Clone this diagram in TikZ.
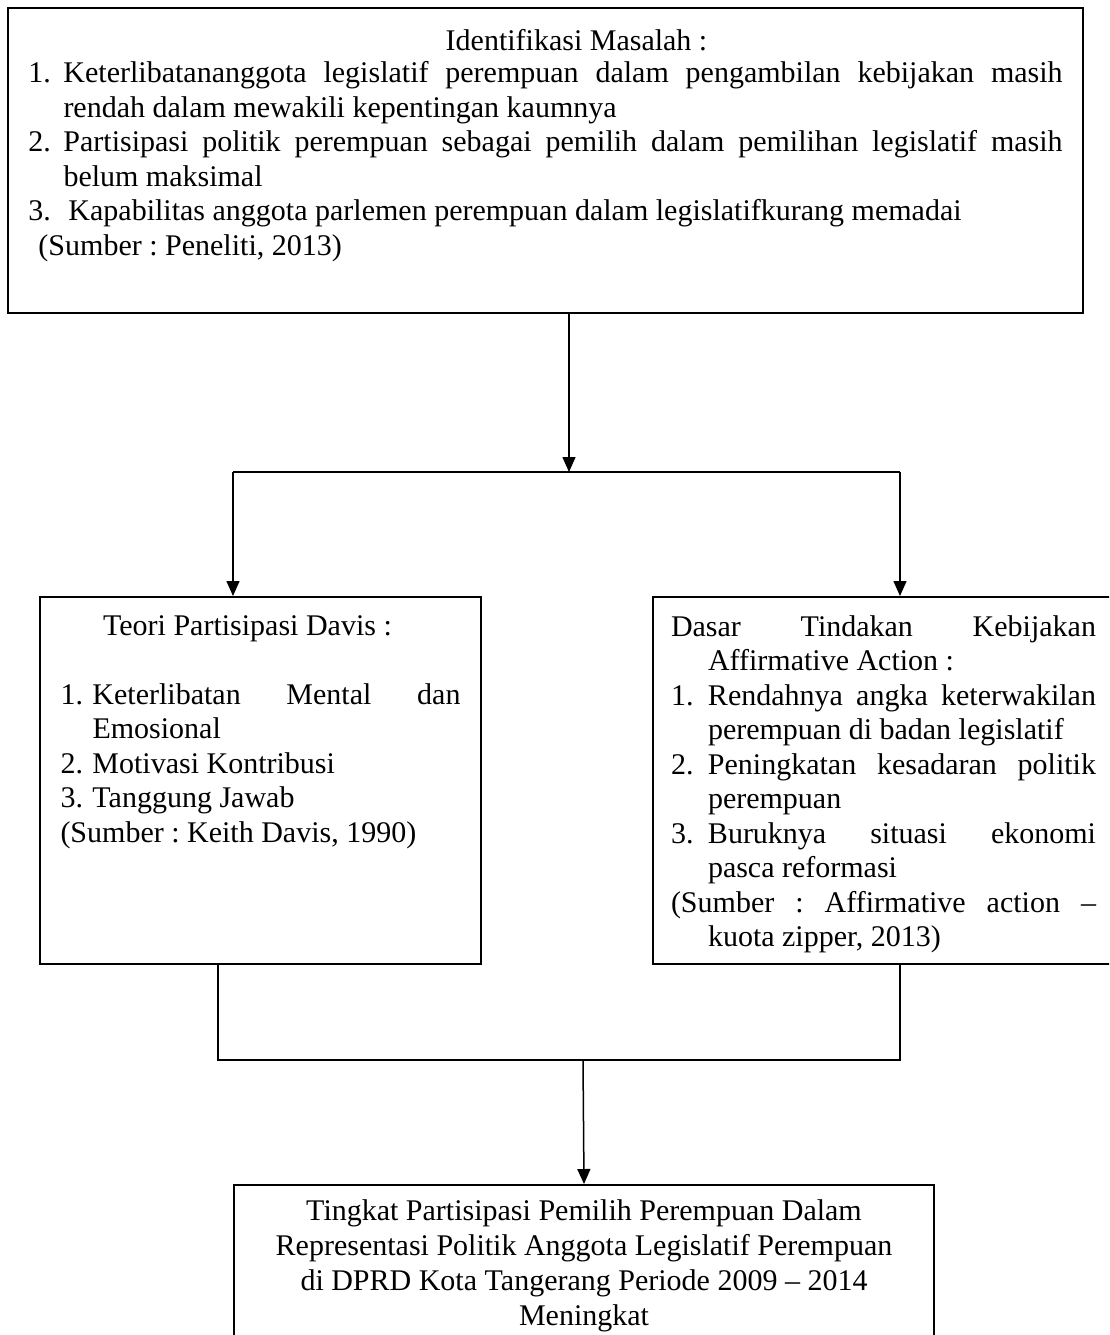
\documentclass[tikz,border=0pt]{standalone}
\usepackage{fontspec}
\setmainfont{Liberation Serif}
\usetikzlibrary{arrows.meta}

\hyphenpenalty=10000
\tolerance=9999
\emergencystretch=2em
\frenchspacing

% butir daftar dengan indentasi gantung
\newcommand{\butir}[3][14pt]{\par\hangindent=#1\hangafter=1\noindent\makebox[#1][l]{#2}#3\par}

\tikzset{
  kotak/.style={draw, line width=0.8pt, inner xsep=8.2pt, inner ysep=0pt, anchor=north west,
                font=\fontsize{12pt}{13.8pt}\selectfont},
  garis/.style={line width=0.6pt},
  panah/.style={garis, -{Triangle[length=6pt,width=5.2pt]}}
}

\begin{document}
\begin{tikzpicture}[x=0.4pt,y=-0.4pt]

\useasboundingbox (0,0) rectangle (1109,1335);
\clip (0,0) rectangle (1109,1335);

\node[kotak] (masalah) at (7,7) {\parbox[t][122pt][t]{413.6pt}{\vspace*{8.6pt}%
{\centering\hspace*{24.8pt}Identifikasi Masalah :\par}
\vspace{-1pt}
\butir{1.}{Keterlibatananggota legislatif perempuan dalam pengambilan kebijakan masih\linebreak rendah dalam mewakili kepentingan kaumnya}
\butir{2.}{Partisipasi politik perempuan sebagai pemilih dalam pemilihan legislatif masih\linebreak belum maksimal}
\butir{3.}{\hspace{2pt}Kapabilitas anggota parlemen perempuan dalam legislatifkurang memadai}
\hspace*{4pt}(Sumber : Peneliti, 2013)}};

\node[kotak] (teori) at (39,596) {\parbox[t][146.8pt][t]{160pt}{\vspace*{7.4pt}%
{\centering Teori Partisipasi Davis :\hspace*{10.4pt}\par}
\vspace{13.8pt}
\butir[12.8pt]{1.}{Keterlibatan Mental dan\linebreak Emosional}
\butir[12.8pt]{2.}{Motivasi Kontribusi}
\butir[12.8pt]{3.}{Tanggung Jawab}
(Sumber : Keith Davis, 1990)}};

\node[kotak, inner xsep=7.2pt] (dasar) at (652,596) {\parbox[t][146.8pt][t]{170pt}{\vspace*{7.4pt}%
{\hangindent=14.8pt\hangafter=1 Dasar Tindakan Kebijakan\linebreak Affirmative Action :\par}
\butir[14.8pt]{1.}{Rendahnya angka keterwakilan\linebreak perempuan di badan legislatif}
\butir[14.8pt]{2.}{Peningkatan kesadaran politik\linebreak perempuan}
\butir[14.8pt]{3.}{Buruknya situasi ekonomi\linebreak pasca reformasi}
{\hangindent=14.8pt\hangafter=1 (Sumber : Affirmative action --\linebreak kuota zipper, 2013)\par}}};

\node[kotak] (hasil) at (233,1184) {\parbox[t][80pt][t]{263.6pt}{\vspace*{6pt}%
\fontsize{12pt}{14pt}\selectfont
\centering Tingkat Partisipasi Pemilih Perempuan Dalam\\
Representasi Politik Anggota Legislatif Perempuan\\
di DPRD Kota Tangerang Periode 2009 -- 2014\\
Meningkat}};

% percabangan atas
\coordinate (cabang) at (569,472);
\coordinate (kiri) at (233,472);
\coordinate (kanan) at (900,472);
\draw[panah] (masalah.south -| cabang) -- (cabang);
\draw[garis] (kiri) -- (kanan);
\draw[panah] (kiri) -- (kiri |- teori.north);
\draw[panah] (kanan) -- (kanan |- dasar.north);

% penggabungan bawah
\coordinate (kiri2) at (218,1060);
\coordinate (kanan2) at (900,1060);
\coordinate (gabung) at (583,1060);
\draw[garis] (teori.south -| kiri2) -- (kiri2) -- (kanan2) -- (kanan2 |- dasar.south);
\draw[panah] (gabung) -- (hasil.north);

\end{tikzpicture}
\end{document}
